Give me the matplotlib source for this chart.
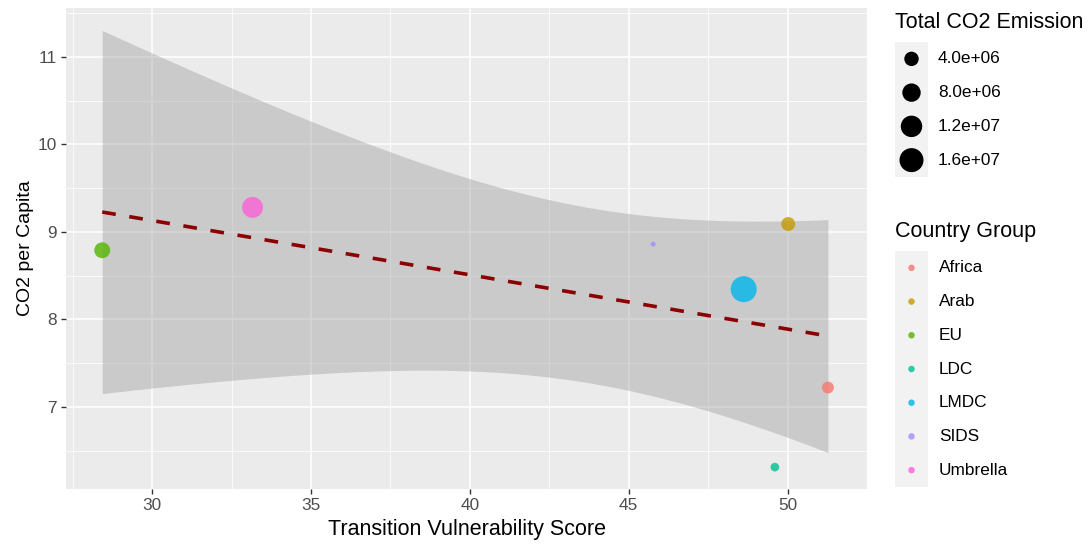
import numpy as np
import matplotlib
matplotlib.use("Agg")
import matplotlib.pyplot as plt

plt.rcParams['font.family'] = ['Liberation Sans', 'DejaVu Sans']

# data
groups   = ['Africa', 'Arab', 'EU', 'LDC', 'LMDC', 'SIDS', 'Umbrella']
colors   = ['#F8766D', '#C49A00', '#53B400', '#00C094', '#00B6EB', '#A58AFF', '#FB61D7']
score    = [51.27, 50.02, 28.43, 49.60, 48.62, 45.77, 33.16]
co2_pc   = [7.22, 9.09, 8.79, 6.31, 8.345, 8.86, 9.28]
emission = [2.2e6, 3.6e6, 5.3e6, 0.7e6, 1.95e7, 1.0e5, 1.13e7]
size_breaks = [4.0e6, 8.0e6, 1.2e7, 1.6e7]
size_labels = ['4.0e+06', '8.0e+06', '1.2e+07', '1.6e+07']

W, H, DPI = 1092, 545, 100
BG = '#EBEBEB'
TXT = '#4D4D4D'

x = np.array(score)
y = np.array(co2_pc)
vmin, vmax = min(emission), max(emission)

def msize(v):
    # ggplot-like area scale: diameter in px -> scatter s (pt^2)
    d = 5 + 21 * np.sqrt((np.asarray(v) - vmin) / (vmax - vmin))
    return (d * 72.0 / DPI) ** 2

# linear fit with 95% CI (like geom_smooth(method='lm'))
n = len(x)
slope, icpt = np.polyfit(x, y, 1)
resid = y - (icpt + slope * x)
s = np.sqrt(np.sum(resid ** 2) / (n - 2))
sxx = np.sum((x - x.mean()) ** 2)
t975 = 2.5706  # t quantile, df = 5
xs = np.linspace(x.min(), x.max(), 100)
fit = icpt + slope * xs
se = s * np.sqrt(1.0 / n + (xs - x.mean()) ** 2 / sxx)

fig = plt.figure(figsize=(W / DPI, H / DPI), dpi=DPI)
ax = fig.add_axes([66 / W, 1 - 489 / H, (867 - 66) / W, (489 - 8) / H])
ax.set_facecolor(BG)
for sp in ax.spines.values():
    sp.set_visible(False)

ax.set_xlim(27.29, 52.45)
ax.set_ylim(6.06, 11.56)
ax.set_xticks([30, 35, 40, 45, 50])
ax.set_yticks([7, 8, 9, 10, 11])
ax.set_xticks(np.arange(27.5, 53, 5), minor=True)
ax.set_yticks(np.arange(6.5, 11.6, 1), minor=True)
ax.grid(which='major', color='white', lw=1.1)
ax.grid(which='minor', color='white', lw=0.55)
ax.set_axisbelow(True)
ax.tick_params(which='major', length=3.5, width=1.0, color='#333333',
               labelcolor=TXT, labelsize=12.4, pad=3)
ax.tick_params(which='minor', length=0)

ax.fill_between(xs, fit - t975 * se, fit + t975 * se, color='#999999',
                alpha=0.4, lw=0, zorder=2)
ax.plot(xs, fit, color='#8B0000', lw=2.6, linestyle=(0, (3.8, 3.8)), zorder=3)
ax.scatter(x, y, s=msize(emission), c=colors, alpha=0.8, edgecolors='none', zorder=4)

ax.set_xlabel('Transition Vulnerability Score', fontsize=15.5, labelpad=4)
ax.set_ylabel('CO2 per Capita', fontsize=14, labelpad=3)

# size legend
fig.text(895 / W, 1 - 22 / H, 'Total CO2 Emission', fontsize=15.5, va='center')
lax = fig.add_axes([895 / W, 1 - 177 / H, 33 / W, 135 / H])
lax.set_xlim(0, 1)
lax.set_ylim(len(size_breaks) - 0.5, -0.5)
lax.axis('off')
lax.add_patch(plt.Rectangle((0, -0.5), 1, len(size_breaks), color='#F2F2F2', lw=0))
lax.scatter([0.5] * len(size_breaks), range(len(size_breaks)), s=msize(size_breaks),
            c='black', edgecolors='none', clip_on=False)
for i, lab in enumerate(size_labels):
    lax.text(1.3, i, lab, fontsize=12.4, va='center')

# colour legend
fig.text(895 / W, 1 - 232 / H, 'Country Group', fontsize=15.5, va='center')
cax = fig.add_axes([895 / W, 1 - 487 / H, 33 / W, 236 / H])
cax.set_xlim(0, 1)
cax.set_ylim(len(groups) - 0.5, -0.5)
cax.axis('off')
cax.add_patch(plt.Rectangle((0, -0.5), 1, len(groups), color='#F2F2F2', lw=0))
cax.scatter([0.5] * len(groups), range(len(groups)), s=(6.5 * 72.0 / DPI) ** 2,
            c=colors, alpha=0.8, edgecolors='none')
for i, g in enumerate(groups):
    cax.text(1.33, i, g, fontsize=12.4, va='center')

fig.savefig('out.png', dpi=DPI)
